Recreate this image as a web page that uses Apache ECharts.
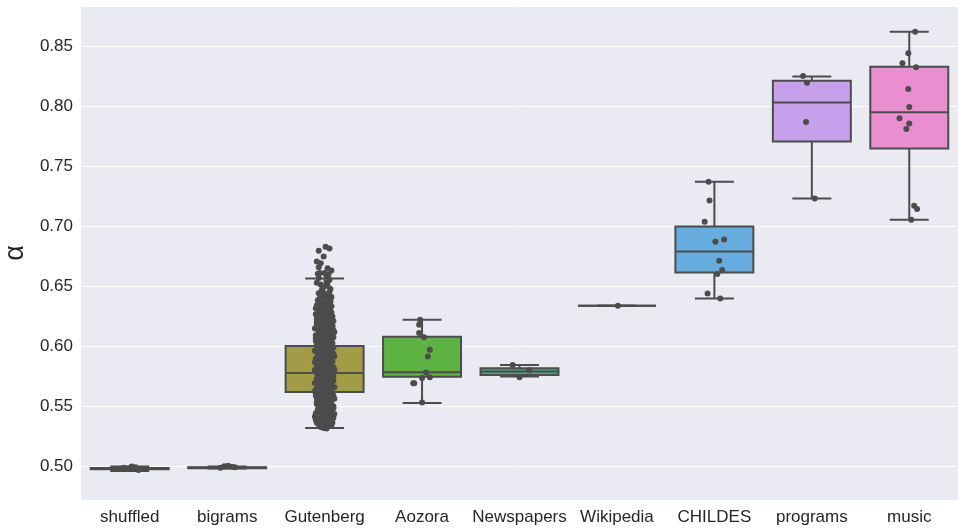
<!DOCTYPE html>
<html>
<head>
<meta charset="utf-8">
<script src="https://cdn.jsdelivr.net/npm/echarts@6/dist/echarts.min.js"></script>
<style>
  html, body { margin: 0; padding: 0; background: #fff; }
  #chart { width: 964px; height: 532px; }
</style>
</head>
<body>
<div id="chart"></div>
<script>
// categories along x
const categories = ["shuffled", "bigrams", "Gutenberg", "Aozora", "Newspapers", "Wikipedia", "CHILDES", "programs", "music"];
const boxColors = ["#e3899a", "#c9924c", "#a19c45", "#5db342", "#3bad8d", "#44a8b3", "#66acdf", "#c6a0ea", "#e98fcf"];
const yTicks = [0.5, 0.55, 0.6, 0.65, 0.7, 0.75, 0.8, 0.85];

// box stats: [min, q1, median, q3, max]
const shuffledBox = [0.4958, 0.4972, 0.4978, 0.4984, 0.4995];
const bigramsBox = [0.4978, 0.4982, 0.4986, 0.4990, 0.4996];
const gutenbergBox = [0.5317, 0.5618, 0.5777, 0.6002, 0.6565];
const aozoraBox = [0.5526, 0.5744, 0.5782, 0.6078, 0.6220];
const newspapersBox = [0.5746, 0.5760, 0.5788, 0.5815, 0.5844];
const wikipediaBox = [0.6337, 0.6337, 0.6337, 0.6337, 0.6337];
const childesBox = [0.6398, 0.6615, 0.6790, 0.6999, 0.7373];
const programsBox = [0.7233, 0.7709, 0.8035, 0.8216, 0.8252];
const musicBox = [0.7055, 0.7651, 0.7952, 0.8333, 0.8626];

// strip points: [jitter (category units), value]
const shuffledPts = [[-0.06, 0.4985], [0.02, 0.4996], [0.06, 0.4990], [-0.02, 0.4978], [0.09, 0.4966], [0.04, 0.4982]];
const bigramsPts = [[-0.03, 0.4998], [0.01, 0.5002], [0.08, 0.4990], [-0.07, 0.4985], [0.05, 0.4994]];
const aozoraPts = [[-0.02, 0.6220], [-0.03, 0.6178], [-0.03, 0.6110], [0.02, 0.6075], [0.08, 0.5970], [0.06, 0.5913],
  [0.04, 0.5780], [0.00, 0.5735], [0.08, 0.5741], [-0.09, 0.5690], [-0.08, 0.5690], [0.00, 0.5529]];
const newspapersPts = [[-0.07, 0.5844], [0.10, 0.5800], [0.00, 0.5741]];
const wikipediaPts = [[0.01, 0.6337]];
const childesPts = [[-0.06, 0.7373], [-0.05, 0.7216], [-0.10, 0.7038], [0.01, 0.6871], [0.10, 0.6890], [0.05, 0.6713],
  [0.08, 0.6637], [0.03, 0.6602], [-0.07, 0.6439], [0.06, 0.6398]];
const programsPts = [[-0.09, 0.8256], [-0.05, 0.8200], [-0.06, 0.7871], [0.03, 0.7233]];
const musicPts = [[0.06, 0.8626], [-0.01, 0.8445], [-0.07, 0.8363], [0.07, 0.8328], [-0.01, 0.8147], [0.00, 0.7997],
  [-0.10, 0.7902], [0.00, 0.7860], [-0.03, 0.7813], [0.05, 0.7172], [0.08, 0.7145], [0.02, 0.7055]];

const gutenbergVals = [
  0.5312, 0.5318, 0.5326, 0.5333, 0.5341, 0.5347, 0.5352, 0.5360, 0.5364, 0.5371,
  0.5378, 0.5384, 0.5391, 0.5395, 0.5403, 0.5410, 0.5414, 0.5422, 0.5429, 0.5433,
  0.5441, 0.5448, 0.5452, 0.5460, 0.5467, 0.5471, 0.5479, 0.5486, 0.5490, 0.5497,
  0.5504, 0.5511, 0.5515, 0.5523, 0.5530, 0.5534, 0.5542, 0.5549, 0.5553, 0.5561,
  0.5568, 0.5572, 0.5580, 0.5587, 0.5591, 0.5598, 0.5605, 0.5609, 0.5617, 0.5624,
  0.5628, 0.5636, 0.5643, 0.5647, 0.5655, 0.5662, 0.5666, 0.5673, 0.5680, 0.5684,
  0.5692, 0.5699, 0.5703, 0.5711, 0.5718, 0.5722, 0.5729, 0.5736, 0.5740, 0.5748,
  0.5755, 0.5759, 0.5767, 0.5774, 0.5778, 0.5785, 0.5792, 0.5796, 0.5804, 0.5811,
  0.5815, 0.5822, 0.5829, 0.5833, 0.5841, 0.5848, 0.5852, 0.5859, 0.5866, 0.5870,
  0.5878, 0.5885, 0.5889, 0.5896, 0.5903, 0.5907, 0.5915, 0.5922, 0.5926, 0.5933,
  0.5940, 0.5944, 0.5952, 0.5959, 0.5963, 0.5970, 0.5977, 0.5981, 0.5989, 0.5996,
  0.6000, 0.6007, 0.6014, 0.6018, 0.6026, 0.6033, 0.6037, 0.6044, 0.6051, 0.6055,
  0.6063, 0.6070, 0.6074, 0.6081, 0.6088, 0.6092, 0.6100, 0.6107, 0.6111, 0.6118,
  0.6125, 0.6129, 0.6137, 0.6144, 0.6148, 0.6155, 0.6162, 0.6166, 0.6174, 0.6181,
  0.6185, 0.6192, 0.6199, 0.6203, 0.6211, 0.6218, 0.6222, 0.6229, 0.6236, 0.6240,
  0.6248, 0.6255, 0.6259, 0.6266, 0.6273, 0.6277, 0.6285, 0.6292, 0.6296, 0.6303,
  0.6310, 0.6318, 0.6325, 0.6333, 0.6341, 0.6350, 0.6358, 0.6367, 0.6375, 0.6384,
  0.6392, 0.6401, 0.6410, 0.6420, 0.6431, 0.6442, 0.6453, 0.6465, 0.6478, 0.6490,
  0.6502, 0.6515, 0.6529, 0.6531, 0.6555, 0.6570, 0.6588, 0.6605, 0.6610, 0.6632,
  0.6651, 0.6660, 0.6693, 0.6707, 0.6749, 0.6796, 0.6830, 0.6815, 0.6610, 0.6598,
  0.5362, 0.5376, 0.5389, 0.5399, 0.5412, 0.5425, 0.5437, 0.5446, 0.5458, 0.5469,
  0.5481, 0.5493, 0.5502, 0.5517, 0.5527, 0.5538, 0.5546, 0.5557, 0.5566, 0.5577,
  0.5589, 0.5601, 0.5613, 0.5621, 0.5633, 0.5645, 0.5657, 0.5669, 0.5677, 0.5689,
  0.5701, 0.5713, 0.5725, 0.5733, 0.5745, 0.5757, 0.5769, 0.5781, 0.5789, 0.5801,
  0.5813, 0.5825, 0.5837, 0.5845, 0.5857, 0.5869, 0.5881, 0.5893, 0.5901, 0.5913,
  0.5925, 0.5937, 0.5949, 0.5957, 0.5968, 0.5979, 0.5992, 0.6004, 0.6012, 0.6023,
  0.6035, 0.6047, 0.6059, 0.6067, 0.6079, 0.6090, 0.6103, 0.6114, 0.6122, 0.6134,
  0.6146, 0.6158, 0.6170, 0.6178, 0.6190, 0.6201, 0.6214, 0.6226, 0.6233, 0.6245,
  0.6257, 0.6270, 0.6282, 0.6289, 0.6301, 0.6314, 0.6327, 0.6339, 0.6346, 0.6360,
  0.6373, 0.6388, 0.6404, 0.6416, 0.6436
];
const gutenbergJitter = [
  0.02, -0.01, -0.04, 0.07, 0.05, -0.06, 0.03, -0.08, 0.08, -0.02,
  0.06, -0.09, 0.04, -0.05, 0.09, -0.10, 0.01, 0.06, -0.03, 0.10,
  -0.09, -0.05, -0.01, 0.03, 0.07, -0.07, -0.03, 0.01, 0.05, 0.09,
  0.08, -0.06, 0.02, -0.02, 0.06, -0.08, 0.04, 0.00, -0.04, 0.10,
  -0.08, 0.05, -0.04, 0.09, 0.01, -0.06, 0.07, -0.02, 0.03, -0.10,
  0.06, -0.09, 0.02, -0.05, 0.08, -0.01, 0.04, -0.07, 0.00, 0.07,
  -0.10, 0.03, -0.06, 0.09, -0.02, 0.05, -0.08, 0.01, 0.07, -0.04,
  0.04, -0.07, 0.08, -0.03, 0.00, -0.09, 0.06, -0.05, 0.10, 0.02,
  -0.05, 0.09, -0.01, 0.05, -0.08, 0.03, -0.03, 0.07, -0.10, 0.01,
  0.07, -0.04, 0.03, -0.09, 0.06, -0.02, 0.10, -0.06, 0.02, -0.07,
  -0.02, 0.08, -0.07, 0.04, -0.10, 0.06, 0.00, -0.05, 0.09, -0.03,
  0.05, -0.08, 0.01, -0.04, 0.08, -0.01, 0.07, -0.09, 0.03, -0.06,
  -0.07, 0.02, 0.09, -0.03, 0.05, -0.09, 0.00, 0.06, -0.05, 0.10,
  0.03, -0.06, 0.07, -0.01, -0.10, 0.04, -0.04, 0.08, 0.01, -0.08,
  -0.04, 0.06, -0.08, 0.02, 0.09, -0.02, 0.05, -0.07, 0.00, 0.07,
  0.08, -0.05, 0.03, -0.09, 0.04, -0.01, -0.06, 0.06, 0.02, -0.03,
  -0.06, 0.05, -0.02, 0.07, -0.08, 0.03, 0.01, -0.04, 0.06, -0.07,
  0.04, -0.05, 0.07, -0.01, 0.02, -0.06, 0.05, -0.03, 0.06, -0.02,
  0.03, -0.04, -0.08, 0.03, 0.05, -0.06, 0.02, -0.07, 0.00, 0.07,
  0.03, -0.06, -0.04, -0.08, -0.01, -0.06, 0.01, 0.05, -0.05, 0.04,
  -0.03, 0.05, -0.07, 0.08, 0.00, -0.09, 0.04, -0.02, 0.07, -0.05,
  0.09, -0.01, 0.03, -0.08, 0.06, -0.04, 0.01, 0.08, -0.06, 0.02,
  -0.09, 0.05, -0.03, 0.07, -0.07, 0.00, 0.10, -0.05, 0.04, -0.02,
  0.06, -0.08, 0.01, -0.04, 0.09, -0.01, 0.05, -0.07, 0.03, -0.10,
  0.00, 0.07, -0.06, 0.04, -0.03, 0.08, -0.09, 0.02, -0.05, 0.06,
  -0.02, 0.09, -0.07, 0.01, 0.05, -0.04, 0.08, -0.08, 0.03, -0.01,
  0.07, -0.05, 0.02, -0.09, 0.06, 0.00, -0.03, 0.04, -0.06, 0.09,
  -0.04, 0.03, 0.08, -0.07, 0.01, -0.02, 0.06, -0.08, 0.05, -0.05,
  0.02, -0.06, 0.07, -0.03, 0.04, -0.09, 0.00, 0.06, -0.04, 0.03,
  -0.05, 0.05, -0.02, 0.02, -0.03
];

const boxes = [shuffledBox, bigramsBox, gutenbergBox, aozoraBox, newspapersBox, wikipediaBox, childesBox, programsBox, musicBox];
const gutenbergPts = gutenbergVals.map((v, i) => [gutenbergJitter[i], v]);
const stripPts = [shuffledPts, bigramsPts, gutenbergPts, aozoraPts, newspapersPts, wikipediaPts, childesPts, programsPts, musicPts];

const lineColor = "#4c4c4c";

const boxData = boxes.map((b, i) => [i + 0.5].concat(b));
const scatterData = [];
stripPts.forEach((pts, i) => {
  pts.forEach((p) => scatterData.push([i + 0.5 + p[0], p[1]]));
});

function renderBox(params, api) {
  const cx = api.value(0);
  const lo = api.coord([cx - 0.4, api.value(1)]);
  const hi = api.coord([cx + 0.4, api.value(1)]);
  const x0 = lo[0], x1 = hi[0];
  const xm = (x0 + x1) / 2;
  const capHalf = (x1 - x0) / 4;
  const yMin = api.coord([cx, api.value(1)])[1];
  const yQ1 = api.coord([cx, api.value(2)])[1];
  const yMed = api.coord([cx, api.value(3)])[1];
  const yQ3 = api.coord([cx, api.value(4)])[1];
  const yMax = api.coord([cx, api.value(5)])[1];
  const stroke = { stroke: lineColor, lineWidth: 2 };
  return {
    type: "group",
    children: [
      { type: "line", shape: { x1: xm, y1: yQ1, x2: xm, y2: yMin }, style: stroke },
      { type: "line", shape: { x1: xm, y1: yQ3, x2: xm, y2: yMax }, style: stroke },
      { type: "line", shape: { x1: xm - capHalf, y1: yMin, x2: xm + capHalf, y2: yMin }, style: stroke },
      { type: "line", shape: { x1: xm - capHalf, y1: yMax, x2: xm + capHalf, y2: yMax }, style: stroke },
      {
        type: "rect",
        shape: { x: x0, y: yQ3, width: x1 - x0, height: yQ1 - yQ3 },
        style: { fill: boxColors[params.dataIndex], stroke: lineColor, lineWidth: 2 },
      },
      { type: "line", shape: { x1: x0, y1: yMed, x2: x1, y2: yMed }, style: stroke },
    ],
  };
}

const chart = echarts.init(document.getElementById("chart"));
chart.setOption({
  animation: false,
  textStyle: { fontFamily: "Liberation Sans" },
  grid: {
    left: 81,
    right: 6,
    top: 6,
    bottom: 32,
    show: true,
    backgroundColor: "#eaeaf2",
    borderWidth: 0,
    containLabel: false,
    outerBoundsMode: "none",
  },
  xAxis: [
    {
      type: "category",
      data: categories,
      boundaryGap: true,
      axisLine: { show: false },
      axisTick: { show: false },
      splitLine: { show: false },
      axisLabel: { color: "#262626", fontSize: 17, margin: 9, interval: 0 },
    },
    {
      type: "value",
      min: 0,
      max: categories.length,
      show: false,
    },
  ],
  yAxis: {
    type: "value",
    min: 0.4716,
    max: 0.884,
    splitNumber: 8,
    name: "α",
    nameLocation: "middle",
    nameGap: 42,
    nameRotate: 90,
    nameTextStyle: { color: "#262626", fontSize: 27 },
    axisLine: { show: false },
    axisTick: { show: false },
    axisLabel: {
      color: "#262626",
      fontSize: 17,
      margin: 8,
      formatter: (v) => (yTicks.some((t) => Math.abs(t - v) < 1e-6) ? v.toFixed(2) : ""),
    },
    splitLine: { show: true, lineStyle: { color: "#ffffff", width: 1 } },
  },
  series: [
    {
      type: "custom",
      xAxisIndex: 1,
      renderItem: renderBox,
      data: boxData,
      encode: { x: 0, y: [1, 2, 3, 4, 5] },
      z: 2,
    },
    {
      type: "scatter",
      xAxisIndex: 1,
      data: scatterData,
      symbolSize: 6,
      itemStyle: { color: lineColor, opacity: 1 },
      z: 3,
    },
  ],
});
</script>
</body>
</html>
